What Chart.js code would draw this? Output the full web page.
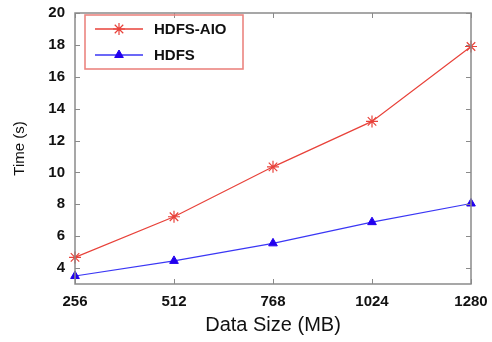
<!DOCTYPE html>
<html>
<head>
<meta charset="utf-8">
<script src="https://cdn.jsdelivr.net/npm/chart.js@4.4.1/dist/chart.umd.min.js"></script>
<style>
  html, body { margin: 0; padding: 0; background: #fff; }
  #wrap { width: 492px; height: 342px; }
</style>
</head>
<body>
<div id="wrap"><canvas id="chart"></canvas></div>
<script>
var sizes = ['256', '512', '768', '1024', '1280'];
var hdfsAio = [4.67, 7.22, 10.35, 13.2, 17.9];
var hdfs = [3.5, 4.45, 5.55, 6.88, 8.05];
var yTicks = [4, 6, 8, 10, 12, 14, 16, 18, 20];

var RED = '#e8423a';
var BLUE = '#3a36f5';
var AXIS = '#8a8a8a';

// inward tick marks on all four sides, like gnuplot mirror tics
var frameTicks = {
    id: 'frameTicks',
    afterDatasetsDraw: function(chart) {
        var ctx = chart.ctx, a = chart.chartArea;
        var xs = chart.scales.x, ys = chart.scales.y;
        ctx.save();
        ctx.strokeStyle = AXIS;
        ctx.lineWidth = 1;
        ctx.beginPath();
        sizes.forEach(function(s, i) {
            var px = Math.round(xs.getPixelForValue(i)) + 0.5;
            ctx.moveTo(px, a.bottom); ctx.lineTo(px, a.bottom - 5);
            ctx.moveTo(px, a.top); ctx.lineTo(px, a.top + 5);
        });
        yTicks.forEach(function(v) {
            var py = Math.round(ys.getPixelForValue(v)) + 0.5;
            ctx.moveTo(a.left, py); ctx.lineTo(a.left + 5, py);
            ctx.moveTo(a.right, py); ctx.lineTo(a.right - 5, py);
        });
        ctx.stroke();
        ctx.lineWidth = 1.5;
        ctx.strokeRect(a.left, a.top, a.right - a.left, a.bottom - a.top);
        ctx.restore();
    }
};

// boxed legend with line sample and marker
var boxLegend = {
    id: 'boxLegend',
    afterDraw: function(chart) {
        var ctx = chart.ctx;
        ctx.save();
        chart.data.datasets.forEach(function(ds, i) {
            var y = 29 + i * 26;
            ctx.strokeStyle = ds.borderColor;
            ctx.lineWidth = 1.3;
            ctx.beginPath();
            ctx.moveTo(95, y); ctx.lineTo(143, y);
            ctx.stroke();
            ctx.fillStyle = ds.pointBackgroundColor;
            ctx.strokeStyle = ds.pointBorderColor;
            ctx.lineWidth = ds.pointBorderWidth || 1;
            Chart.helpers.drawPoint(ctx, {
                pointStyle: ds.pointStyle, radius: ds.pointRadius, rotation: 0,
                borderWidth: ds.pointBorderWidth || 1
            }, 119, y);
            ctx.fillStyle = '#111';
            ctx.font = 'bold 15px "Liberation Sans", Arial, sans-serif';
            ctx.textBaseline = 'middle';
            ctx.textAlign = 'left';
            ctx.fillText(ds.label, 154, y + 1);
        });
        ctx.strokeStyle = '#ec8580';
        ctx.lineWidth = 1.6;
        ctx.strokeRect(85, 15, 158, 54);
        ctx.restore();
    }
};

var chart = new Chart(document.getElementById('chart'), {
    type: 'line',
    data: {
        labels: sizes,
        datasets: [
            {
                label: 'HDFS-AIO',
                data: hdfsAio,
                borderColor: RED,
                borderWidth: 1.2,
                pointStyle: 'star',
                pointRadius: 6,
                pointBorderWidth: 1.2,
                pointBorderColor: RED,
                pointBackgroundColor: RED
            },
            {
                label: 'HDFS',
                data: hdfs,
                borderColor: BLUE,
                borderWidth: 1.2,
                pointStyle: 'triangle',
                pointRadius: 5,
                pointBorderWidth: 1,
                pointBorderColor: '#2200ee',
                pointBackgroundColor: '#2200ee'
            }
        ]
    },
    options: {
        animation: false,
        responsive: true,
        maintainAspectRatio: false,
        layout: { padding: { left: 0, right: 21, top: 13, bottom: 0 } },
        plugins: {
            legend: { display: false },
            tooltip: { enabled: false }
        },
        scales: {
            x: {
                offset: false,
                border: { display: false },
                grid: { display: false, drawTicks: false },
                ticks: {
                    color: '#111',
                    padding: 9,
                    maxRotation: 0,
                    font: { family: '"Liberation Sans", Arial, sans-serif', size: 15, weight: 'bold' }
                },
                title: {
                    display: true,
                    text: 'Data Size (MB)',
                    color: '#111',
                    padding: { top: 0, bottom: 5 },
                    font: { family: '"Liberation Sans", Arial, sans-serif', size: 20 }
                },
                afterFit: function(s) { s.height = 58; s.paddingLeft = 0; s.paddingRight = 0; }
            },
            y: {
                min: 3,
                max: 20,
                border: { display: false },
                grid: { display: false, drawTicks: false },
                afterBuildTicks: function(s) {
                    s.ticks = yTicks.map(function(v) { return { value: v }; });
                },
                ticks: {
                    color: '#111',
                    padding: 10,
                    font: { family: '"Liberation Sans", Arial, sans-serif', size: 15, weight: 'bold' }
                },
                title: {
                    display: true,
                    text: 'Time (s)',
                    color: '#111',
                    padding: { top: 11, bottom: 0 },
                    font: { family: '"Liberation Sans", Arial, sans-serif', size: 15 }
                },
                afterFit: function(s) { s.width = 75; s.paddingTop = 0; s.paddingBottom = 0; }
            }
        }
    },
    plugins: [frameTicks, boxLegend]
});
</script>
</body>
</html>
